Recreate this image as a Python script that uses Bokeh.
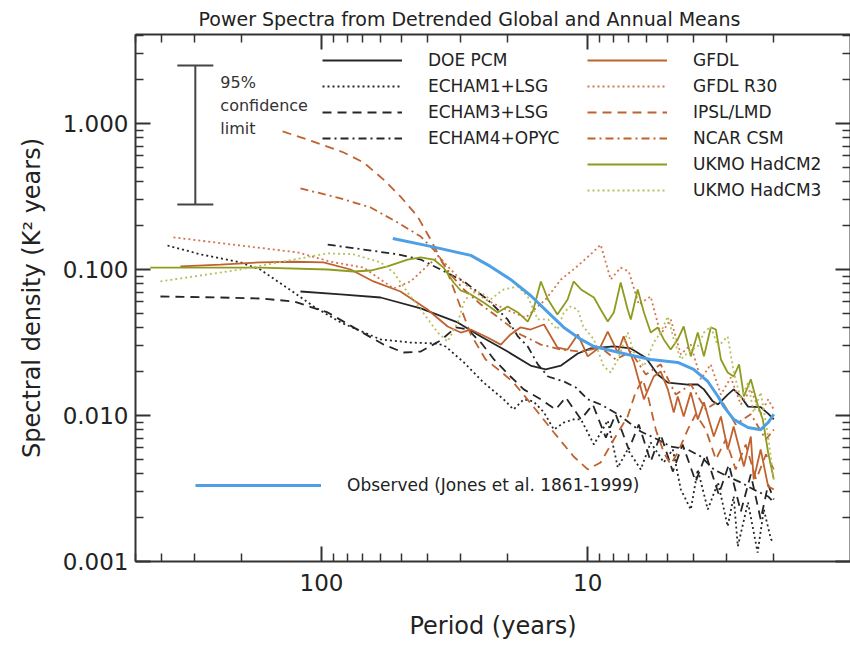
from bokeh.plotting import figure
from bokeh.models import (Range1d, LogAxis, FixedTicker, PrintfTickFormatter, Legend,
                          LegendItem, Whisker, TeeHead, ColumnDataSource)
from bokeh.embed import file_html
from bokeh.resources import INLINE
from bokeh.core.properties import value

FONT = "DejaVu Sans"

# ---------------- data (period in years, spectral density in K^2 years) ----------------
doe_pcm_period = [120, 84.8, 60, 42.4, 30.8, 25.2, 20, 16.4, 14.4, 12.6, 10.9, 9.75, 7.98, 6.89, 6.05,
                  5.46, 5.0, 4.21, 3.86, 3.66, 3.39, 3.24, 2.98, 2.83, 2.66, 2.50, 2.24, 2.10, 2.0]
doe_pcm_psd = [0.0707, 0.0675, 0.0643, 0.0541, 0.0434, 0.0348, 0.0274, 0.022, 0.0207, 0.022, 0.0266,
               0.0288, 0.0297, 0.0288, 0.0249, 0.0191, 0.0168, 0.0163, 0.0163, 0.0151, 0.0125, 0.0119,
               0.0139, 0.0151, 0.0135, 0.0115, 0.0114, 0.0103, 0.0094]

echam1_period = [379, 285, 202, 170, 127, 107, 84.8, 60, 46.3, 36.6, 34.2, 29.2, 24.6, 20.7, 19.0, 17.4,
                 16.0, 14.6, 13.4, 12.3, 11.3, 10.6, 9.48, 8.41, 7.71, 7.08, 6.32, 5.80, 5.18, 4.79,
                 4.47, 4.10, 3.86, 3.54, 3.24, 2.98, 2.83, 2.73, 2.50, 2.30, 2.18, 2.05, 2.0]
echam1_psd = [0.146, 0.127, 0.112, 0.1, 0.0696, 0.0558, 0.0434, 0.0332, 0.0316, 0.0311, 0.0297, 0.0231,
              0.0168, 0.0129, 0.011, 0.0129, 0.0125, 0.0105, 0.008, 0.00895, 0.0094, 0.0094, 0.00633,
              0.00924, 0.0044, 0.00585, 0.00427, 0.00653, 0.00477, 0.00585, 0.00311, 0.00227, 0.00427,
              0.00227, 0.00348, 0.00174, 0.00279, 0.00127, 0.00254, 0.00115, 0.00227, 0.00142, 0.00135]

echam3_period = [403, 240, 170, 127, 94.8, 71.3, 58.5, 49.2, 42.4, 35.7, 31.3, 28.2, 25.2, 22.5, 19.5,
                 17.4, 15.0, 13.2, 12.1, 10.6, 9.57, 8.55, 7.85, 7.01, 6.43, 5.80, 5.32, 4.79, 4.40,
                 3.93, 3.60, 3.22, 2.95, 2.66, 2.44, 2.24, 2.10, 2.0]
echam3_psd = [0.0653, 0.0643, 0.0633, 0.0604, 0.0508, 0.0376, 0.0306, 0.027, 0.0274, 0.0327, 0.0401,
              0.0388, 0.0316, 0.0242, 0.0185, 0.0151, 0.0129, 0.011, 0.0133, 0.0094, 0.0119, 0.00706,
              0.0102, 0.00585, 0.00868, 0.00484, 0.00741, 0.00413, 0.00633, 0.00353, 0.00541, 0.00288,
              0.00462, 0.0022, 0.00394, 0.00194, 0.00337, 0.00266]

echam4_period = [94.8, 69.5, 51.8, 42.4, 35.7, 29.2, 23.8, 20, 18.3, 16.8, 15.4, 14.1, 12.3, 11.1, 10,
                 8.94, 7.71, 7.08, 6.32, 5.46, 4.88, 4.21, 3.76, 3.36, 2.98, 2.66, 2.38, 2.10, 2.0]
echam4_psd = [0.148, 0.137, 0.127, 0.117, 0.1, 0.0828, 0.0623, 0.0455, 0.0348, 0.0297, 0.0224, 0.0185,
              0.0171, 0.0156, 0.0129, 0.0119, 0.0102, 0.0091, 0.00777, 0.00685, 0.00613, 0.00585,
              0.00524, 0.00427, 0.00382, 0.00348, 0.00311, 0.00279, 0.00254]

gfdl_period = [339, 240, 170, 127, 98.3, 77.8, 63.8, 50.5, 40, 33.6, 30, 27.5, 23.8, 21.2, 19.5, 17.9,
               16.4, 14.6, 13.0, 11.9, 10.9, 10, 8.94, 8.41, 7.71, 7.33, 6.71, 6.15, 5.65, 5.32, 5.0,
               4.75, 4.59, 4.36, 4.10, 3.86, 3.66, 3.36, 3.16, 2.98, 2.83, 2.59, 2.44, 2.38, 2.24,
               2.10, 2.0]
gfdl_psd = [0.105, 0.108, 0.112, 0.113, 0.112, 0.1, 0.0828, 0.0707, 0.0532, 0.0407, 0.037, 0.0388,
            0.0342, 0.0306, 0.0359, 0.0401, 0.0388, 0.042, 0.0292, 0.0283, 0.0359, 0.0254, 0.0297,
            0.0376, 0.027, 0.0348, 0.0231, 0.0129, 0.0185, 0.02, 0.0151, 0.0105, 0.0135, 0.00985,
            0.0144, 0.0094, 0.0123, 0.00718, 0.00985, 0.00585, 0.00841, 0.00448, 0.00718, 0.00365,
            0.00585, 0.00327, 0.00311]

gfdl_r30_period = [360, 190, 123, 92.5, 69.5, 53.6, 46.3, 39.6, 36.3, 32.7, 28.8, 24.2, 20.3, 17.1, 14.4,
                   12.6, 11.1, 9.75, 8.94, 8.20, 7.52, 7.01, 6.43, 5.80, 5.32, 4.88, 4.47, 4.10, 3.76,
                   3.45, 3.16, 2.90, 2.66, 2.44, 2.24, 2.10, 2.0]
gfdl_r30_psd = [0.166, 0.144, 0.131, 0.113, 0.103, 0.0741, 0.0828, 0.108, 0.123, 0.1, 0.0789, 0.0623,
                0.0532, 0.0469, 0.0623, 0.0855, 0.103, 0.127, 0.148, 0.0855, 0.103, 0.0969, 0.0576,
                0.0653, 0.0359, 0.0455, 0.0262, 0.0306, 0.0177, 0.0224, 0.0139, 0.0182, 0.0119, 0.0151,
                0.0102, 0.0129, 0.011]

ipsl_period = [140, 113, 82.6, 69.5, 58.5, 50.5, 43.6, 38.9, 33.6, 30.8, 27.5, 24.2, 21.2, 19.0, 16.0,
               13.4, 11.3, 10, 8.94, 7.98, 7.08, 6.61, 6.21, 5.90, 5.55, 5.18, 4.88, 4.59, 4.21, 3.93,
               3.60, 3.30, 3.03, 2.78, 2.55, 2.33, 2.14, 2.0]
ipsl_psd = [0.882, 0.777, 0.633, 0.541, 0.413, 0.316, 0.231, 0.16, 0.0954, 0.0623, 0.0359, 0.0242, 0.02,
            0.0168, 0.0115, 0.00765, 0.00524, 0.00427, 0.00477, 0.00685, 0.00985, 0.0144, 0.0177,
            0.0129, 0.008, 0.00558, 0.00462, 0.00558, 0.008, 0.0102, 0.008, 0.005, 0.00685, 0.00427,
            0.00633, 0.00365, 0.00541, 0.00427]

ncar_period = [120, 87, 65.4, 51.8, 42.4, 37.9, 32.7, 29.2, 25.2, 21.2, 17.9, 15.0, 12.6, 10.6, 8.94,
               7.85, 6.89, 6.05, 5.32, 4.67, 4.10, 3.60, 3.16, 2.78, 2.44, 2.14, 2.0]
ncar_psd = [0.359, 0.311, 0.266, 0.21, 0.168, 0.137, 0.0924, 0.073, 0.0576, 0.0455, 0.0359, 0.0306,
            0.0283, 0.0274, 0.0292, 0.0242, 0.0274, 0.0191, 0.0224, 0.0139, 0.0163, 0.011, 0.0129,
            0.00868, 0.0102, 0.00685, 0.008]

hadcm2_period = [440, 170, 94.8, 75.8, 65.4, 56.5, 47.5, 42.4, 37.9, 34.8, 31.9, 30, 27.5, 24.6, 21.8,
                 20, 18.3, 16.8, 16.0, 15.0, 14.1, 13.0, 11.9, 11.3, 10.6, 9.48, 8.94, 8.41, 7.98, 7.52,
                 7.08, 6.89, 6.49, 6.15, 5.80, 5.46, 5.18, 4.88, 4.59, 4.36, 4.10, 3.86, 3.66, 3.45,
                 3.30, 3.16, 2.98, 2.83, 2.70, 2.59, 2.44, 2.30, 2.20, 2.10, 2.0]
hadcm2_psd = [0.103, 0.103, 0.1, 0.0969, 0.0984, 0.105, 0.117, 0.121, 0.117, 0.103, 0.0815, 0.0718,
              0.0675, 0.0594, 0.0508, 0.0558, 0.0508, 0.044, 0.0532, 0.0828, 0.0623, 0.0492, 0.0623,
              0.0828, 0.073, 0.0643, 0.0532, 0.044, 0.0508, 0.0815, 0.0532, 0.0455, 0.073, 0.0508,
              0.037, 0.0401, 0.0332, 0.0283, 0.0332, 0.0407, 0.0254, 0.037, 0.0254, 0.0401, 0.0388,
              0.0242, 0.0197, 0.0185, 0.0224, 0.0135, 0.0177, 0.0119, 0.0094, 0.00558, 0.00365]

hadcm3_period = [403, 202, 127, 94.8, 75.8, 60, 53.6, 47.5, 42.4, 36.6, 33.6, 30.8, 29.2, 27.5, 25.2,
                 23.2, 20.7, 18.3, 16.8, 15.4, 14.1, 13.0, 12.3, 11.6, 10.9, 10.4, 9.48, 8.71, 8.20,
                 7.71, 7.08, 6.71, 6.15, 5.65, 5.32, 5.0, 4.75, 4.47, 4.21, 3.86, 3.66, 3.45, 3.24,
                 2.98, 2.83, 2.66, 2.50, 2.38, 2.24, 2.10, 2.0]
hadcm3_psd = [0.0828, 0.1, 0.117, 0.129, 0.127, 0.112, 0.0954, 0.0696, 0.0532, 0.037, 0.0321, 0.0434,
              0.0594, 0.0696, 0.0696, 0.0623, 0.073, 0.0765, 0.0653, 0.0455, 0.0455, 0.0388, 0.0508,
              0.0558, 0.0532, 0.0407, 0.0332, 0.0217, 0.0197, 0.0242, 0.037, 0.027, 0.0217, 0.0316,
              0.037, 0.0477, 0.0332, 0.0242, 0.027, 0.0297, 0.037, 0.0407, 0.0297, 0.0348, 0.02,
              0.0129, 0.0168, 0.0105, 0.0144, 0.00718, 0.00365]

observed_period = [54, 38.9, 27.5, 23.2, 19.5, 16.4, 14.1, 12.3, 10.6, 9.48, 7.08, 5.80, 4.59, 4.0,
                   3.54, 3.24, 3.08, 2.83, 2.50, 2.24, 2.10, 2.0]
observed_psd = [0.163, 0.144, 0.125, 0.105, 0.0855, 0.0664, 0.0508, 0.0401, 0.0332, 0.0297, 0.0262,
                0.0242, 0.0231, 0.0207, 0.0171, 0.0135, 0.0115, 0.0094, 0.00828, 0.008, 0.00895, 0.0102]

# 95% confidence bar
conf_period = 298
conf_low = 0.279
conf_high = 2.5
conf_text = ["95%", "confidence", "limit"]
conf_text_period = [240, 240, 240]
conf_text_psd = [1.91, 1.33, 0.925]

title_text = "Power Spectra from Detrended Global and Annual Means"
x_label = "Period (years)"
y_label = "Spectral density (K\u00b2 years)"
x_major = [1, 10, 100, 1000]
y_major = [0.001, 0.01, 0.1, 1.0]

# ---------------- figure ----------------
p = figure(width=850, height=658, x_axis_type="log", y_axis_type="log",
           x_range=Range1d(500, 1.03), y_range=Range1d(0.001, 4.07),
           output_backend="svg", toolbar_location=None,
           min_border_left=135, min_border_right=0, min_border_top=34, min_border_bottom=97)
p.background_fill_color = "white"
p.border_fill_color = "white"
p.outline_line_color = None
p.grid.visible = False

p.title.text = title_text
p.title.align = "left"
p.title.offset = 63
p.title.text_font = FONT
p.title.text_font_size = "19px"
p.title.text_font_style = "normal"
p.title.text_color = "#222222"

x_minor = [m * d for d in (1, 10, 100) for m in range(2, 10)]
y_minor = [m * d for d in (0.001, 0.01, 0.1, 1.0) for m in range(2, 10)]

AX = "#333333"


def style(ax, ticks, minor, fmt, labels=True):
    ax.ticker = FixedTicker(ticks=ticks, minor_ticks=minor)
    ax.formatter = PrintfTickFormatter(format=fmt)
    ax.major_tick_in = 15
    ax.major_tick_out = 0
    ax.minor_tick_in = 8
    ax.minor_tick_out = 0
    ax.axis_line_color = AX
    ax.axis_line_width = 2
    ax.major_tick_line_color = AX
    ax.major_tick_line_width = 2
    ax.minor_tick_line_color = AX
    ax.minor_tick_line_width = 1.5
    ax.major_label_text_font = FONT
    if labels:
        ax.major_label_text_font_size = "23px"
        ax.major_label_text_color = "#222222"
    else:
        # frame-only axis: ticks, no labels drawn
        ax.major_label_text_color = None
        ax.major_label_text_font_size = "1px"
        ax.major_label_standoff = 0


xb = p.xaxis[0]
yl = p.yaxis[0]
style(xb, x_major, x_minor, "%d")
style(yl, y_major, y_minor, "%.3f")
xb.major_label_standoff = 12
yl.major_label_standoff = 7
xb.axis_label = x_label
yl.axis_label = y_label
for ax in (xb, yl):
    ax.axis_label_text_font = FONT
    ax.axis_label_text_font_size = "24px"
    ax.axis_label_text_font_style = "normal"
    ax.axis_label_text_color = "#222222"
xb.axis_label_standoff = 18
yl.axis_label_standoff = 14

xt = LogAxis()
style(xt, x_major, x_minor, "%d", labels=False)
xt.major_label_standoff = 3
p.add_layout(xt, "above")
yr = LogAxis()
style(yr, y_major, y_minor, "%.3f", labels=False)
p.add_layout(yr, "right")

# ---------------- series ----------------
BLACK = "#262626"
BROWN = "#c0622f"
BROWN_L = "#d27650"
OLIVE = "#8e9b1f"
OLIVE_L = "#b7bf5e"
BLUE = "#4d9fe6"

r_doe = p.line(doe_pcm_period, doe_pcm_psd, line_color=BLACK, line_width=1.8)
r_e1 = p.line(echam1_period, echam1_psd, line_color=BLACK, line_width=1.8, line_dash="2 3")
r_e3 = p.line(echam3_period, echam3_psd, line_color=BLACK, line_width=1.8, line_dash="9 6")
r_e4 = p.line(echam4_period, echam4_psd, line_color=BLACK, line_width=1.8, line_dash="8 4 2 4")
r_gf = p.line(gfdl_period, gfdl_psd, line_color=BROWN, line_width=1.8)
r_r30 = p.line(gfdl_r30_period, gfdl_r30_psd, line_color=BROWN_L, line_width=1.8, line_dash="2 3")
r_ip = p.line(ipsl_period, ipsl_psd, line_color=BROWN, line_width=1.8, line_dash="9 6")
r_nc = p.line(ncar_period, ncar_psd, line_color=BROWN, line_width=1.8, line_dash="8 4 2 4")
r_h2 = p.line(hadcm2_period, hadcm2_psd, line_color=OLIVE, line_width=1.8)
r_h3 = p.line(hadcm3_period, hadcm3_psd, line_color=OLIVE_L, line_width=1.8, line_dash="2 3")
r_obs = p.line(observed_period, observed_psd, line_color=BLUE, line_width=3)

# confidence bar
csrc = ColumnDataSource(data=dict(base=[conf_period], lower=[conf_low], upper=[conf_high]))
wh = Whisker(source=csrc, base="base", lower="lower", upper="upper", dimension="height",
             line_color="#444444", line_width=2,
             upper_head=TeeHead(size=36, line_color="#444444", line_width=2),
             lower_head=TeeHead(size=36, line_color="#444444", line_width=2))
p.add_layout(wh)
p.text(x=conf_text_period, y=conf_text_psd, text=conf_text, text_font=value(FONT),
       text_font_size="16px", text_baseline="middle", text_align="left", text_color="#333333")


# ---------------- legends ----------------
def make_legend(items, loc, glyph_w):
    lg = Legend(items=[LegendItem(label=t, renderers=[r]) for t, r in items], location=loc)
    lg.glyph_width = glyph_w
    lg.glyph_height = 20
    lg.label_height = 20
    lg.label_standoff = 26
    lg.spacing = 6
    lg.padding = 0
    lg.margin = 0
    lg.border_line_color = None
    lg.background_fill_alpha = 0
    lg.label_text_font = FONT
    lg.label_text_font_size = "17px"
    lg.label_text_color = "#222222"
    lg.click_policy = "none"
    return lg


leg1 = make_legend([("DOE PCM", r_doe), ("ECHAM1+LSG", r_e1), ("ECHAM3+LSG", r_e3),
                    ("ECHAM4+OPYC", r_e4)], (187, 413), 80)
leg2 = make_legend([("GFDL", r_gf), ("GFDL R30", r_r30), ("IPSL/LMD", r_ip), ("NCAR CSM", r_nc),
                    ("UKMO HadCM2", r_h2), ("UKMO HadCM3", r_h3)], (452, 361), 80)
leg3 = make_legend([("Observed (Jones et al. 1861-1999)", r_obs)], (60, 66), 126)
for lg in (leg1, leg2, leg3):
    p.add_layout(lg, "center")

open("out.html", "w").write(file_html(p, INLINE))
